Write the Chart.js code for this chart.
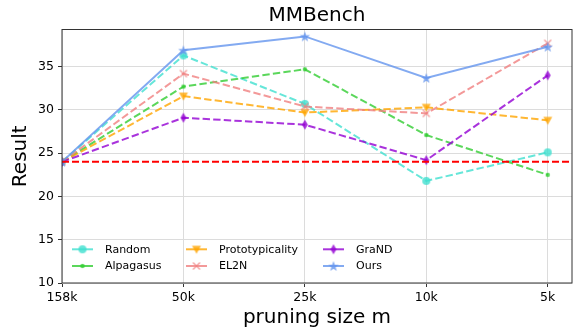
<!DOCTYPE html>
<html lang="en">
<head>
<meta charset="UTF-8">
<title>MMBench</title>
<script src="https://cdn.jsdelivr.net/npm/chart.js"></script>
<style>
    body { margin: 0; background: #fff; }
    #wrap { width: 574px; height: 333px; }
</style>
</head>
<body>
<div id="wrap"><canvas id="chart"></canvas></div>
<script>
// data
const sizeLabels = ['158k', '50k', '25k', '10k', '5k'];
const randomVals = [24.0, 36.3, 30.7, 21.8, 25.1];
const alpagasusVals = [24.0, 32.7, 34.7, 27.1, 22.5];
const protoVals = [24.0, 31.6, 29.7, 30.3, 28.8];
const el2nVals = [24.0, 34.2, 30.4, 29.6, 37.7];
const grandVals = [24.0, 29.1, 28.3, 24.2, 34.0];
const oursVals = [24.0, 36.9, 38.5, 33.7, 37.3];
const baseline = 24;
const yTicks = [10, 15, 20, 25, 30, 35];

const FONT = 'DejaVu Sans';

// little canvases used as matplotlib-like markers
function marker(kind, color) {
    const s = 14, m = 7;
    const c = document.createElement('canvas');
    c.width = s; c.height = s;
    const g = c.getContext('2d');
    g.fillStyle = color;
    g.strokeStyle = color;
    g.beginPath();
    if (kind === 'circle') {
        g.arc(m, m, 4, 0, Math.PI * 2);
        g.fill();
    } else if (kind === 'dot') {
        g.arc(m, m, 2.2, 0, Math.PI * 2);
        g.fill();
    } else if (kind === 'tri') {
        g.moveTo(m - 4.5, m - 3.5);
        g.lineTo(m + 4.5, m - 3.5);
        g.lineTo(m, m + 4.5);
        g.closePath();
        g.fill();
    } else if (kind === 'x') {
        g.lineWidth = 1.3;
        g.moveTo(m - 3.5, m - 3.5); g.lineTo(m + 3.5, m + 3.5);
        g.moveTo(m + 3.5, m - 3.5); g.lineTo(m - 3.5, m + 3.5);
        g.stroke();
    } else if (kind === 'thin') {
        g.moveTo(m, m - 5);
        g.lineTo(m + 3, m);
        g.lineTo(m, m + 5);
        g.lineTo(m - 3, m);
        g.closePath();
        g.fill();
    } else if (kind === 'star') {
        for (let i = 0; i < 10; i++) {
            const r = i % 2 === 0 ? 5.5 : 2.3;
            const a = -Math.PI / 2 + i * Math.PI / 5;
            const px = m + r * Math.cos(a), py = m + 0.5 + r * Math.sin(a);
            if (i === 0) g.moveTo(px, py); else g.lineTo(px, py);
        }
        g.closePath();
        g.fill();
    }
    return c;
}

const series = [
    { label: 'Random', vals: randomVals, rgb: '64,224,208', mk: 'circle', dashed: true },
    { label: 'Alpagasus', vals: alpagasusVals, rgb: '50,205,50', mk: 'dot', dashed: true },
    { label: 'Prototypicality', vals: protoVals, rgb: '255,165,0', mk: 'tri', dashed: true },
    { label: 'EL2N', vals: el2nVals, rgb: '240,128,128', mk: 'x', dashed: true },
    { label: 'GraND', vals: grandVals, rgb: '148,0,211', mk: 'thin', dashed: true },
    { label: 'Ours', vals: oursVals, rgb: '100,149,237', mk: 'star', dashed: false }
];

const datasets = series.map((s, i) => {
    s.color = 'rgba(' + s.rgb + ',0.8)';
    s.img = marker(s.mk, s.color);
    return {
        label: s.label,
        data: s.vals.map((v, k) => ({ x: k, y: v })),
        borderColor: s.color,
        backgroundColor: s.color,
        borderWidth: 2,
        borderDash: s.dashed ? [7.4, 3.2] : [],
        pointStyle: s.img,
        pointRadius: 5,
        tension: 0,
        order: series.length - i + 1
    };
});

// red dashed reference line
datasets.push({
    label: 'baseline',
    data: [{ x: 0, y: baseline }, { x: 4.2, y: baseline }],
    borderColor: '#ff0000',
    backgroundColor: '#ff0000',
    borderWidth: 2,
    borderDash: [7, 3],
    pointRadius: 0,
    order: 0
});

// frame round the axes + legend in the lower left corner
const framePlugin = {
    id: 'frame',
    afterDatasetsDraw(chart) {
        const { ctx, chartArea: a } = chart;
        ctx.save();
        ctx.strokeStyle = '#333';
        ctx.lineWidth = 1;
        ctx.strokeRect(a.left, a.top, a.right - a.left, a.bottom - a.top);

        ctx.font = '11px "' + FONT + '"';
        ctx.fillStyle = '#000';
        ctx.textBaseline = 'middle';
        const cols = [10, 124, 261];
        const rows = [a.bottom - 33.7, a.bottom - 17];
        series.forEach((s, i) => {
            const x = a.left + cols[Math.floor(i / 2)];
            const y = rows[i % 2];
            ctx.strokeStyle = s.color;
            ctx.lineWidth = 2;
            ctx.beginPath();
            ctx.moveTo(x, y);
            ctx.lineTo(x + 21, y);
            ctx.stroke();
            ctx.drawImage(s.img, x + 10.5 - 7, y - 7);
            ctx.fillText(s.label, x + 33, y + 0.5);
        });
        ctx.restore();
    }
};

new Chart(document.getElementById('chart'), {
    type: 'line',
    data: { datasets: datasets },
    plugins: [framePlugin],
    options: {
        responsive: true,
        maintainAspectRatio: false,
        animation: false,
        layout: { autoPadding: false, padding: { left: 0, right: 2, top: 0, bottom: 0 } },
        plugins: {
            legend: { display: false },
            tooltip: { enabled: false },
            title: {
                display: true,
                text: 'MMBench',
                fullSize: false,
                color: '#000',
                font: { family: FONT, size: 20, weight: 'normal' },
                padding: { top: 4, bottom: 1.5 }
            }
        },
        scales: {
            x: {
                type: 'linear',
                min: 0,
                max: 4.2,
                afterBuildTicks: s => { s.ticks = sizeLabels.map((l, i) => ({ value: i })); },
                afterFit: s => {
                    s.height = 50;
                    s.paddingLeft = 0;
                    s.paddingRight = 0;
                },
                ticks: {
                    callback: v => sizeLabels[Math.round(v)],
                    autoSkip: false,
                    maxRotation: 0,
                    padding: 3,
                    color: '#000',
                    font: { family: FONT, size: 12.5 }
                },
                grid: { color: '#dcdcdc', tickColor: '#333', tickLength: 4, lineWidth: 1 },
                border: { display: false },
                title: {
                    display: true,
                    text: 'pruning size m',
                    color: '#000',
                    font: { family: FONT, size: 20 },
                    padding: { top: 0, bottom: 3 }
                }
            },
            y: {
                min: 10,
                max: 39.3,
                afterBuildTicks: s => { s.ticks = yTicks.map(v => ({ value: v })); },
                afterFit: s => { s.width = 62; },
                ticks: {
                    padding: 4,
                    color: '#000',
                    font: { family: FONT, size: 12.5 }
                },
                grid: { color: '#dcdcdc', tickColor: '#333', tickLength: 4, lineWidth: 1 },
                border: { display: false },
                title: {
                    display: true,
                    text: 'Result',
                    color: '#000',
                    font: { family: FONT, size: 20 },
                    padding: { top: 9, bottom: 0 }
                }
            }
        }
    }
});
</script>
</body>
</html>
